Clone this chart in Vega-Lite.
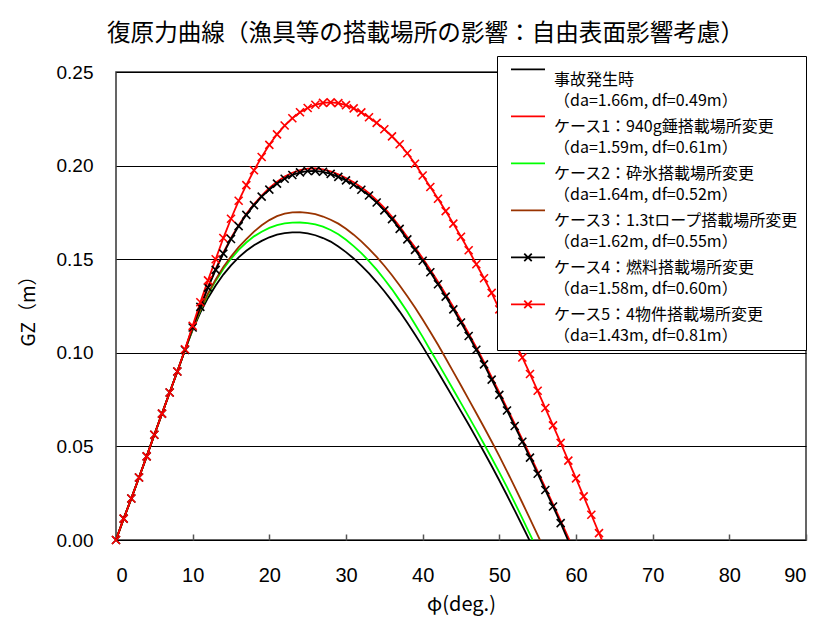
{
  "$schema": "https://vega.github.io/schema/vega-lite/v6.json",
  "width": 690,
  "height": 468,
  "autosize": {"type": "none"},
  "padding": {"left": 116, "top": 72, "right": 7, "bottom": 84},
  "background": "white",
  "title": {"text": "復原力曲線（漁具等の搭載場所の影響：自由表面影響考慮）", "anchor": "start", "frame": "group", "dx": -9, "offset": 10, "font": "Noto Sans CJK JP", "fontSize": 23.6, "fontWeight": "normal", "color": "black"},
  "data": {"values": [
    {"phi": 0, "a": 0, "c1": 0, "c2": 0, "c3": 0, "c4": 0, "c5": 0},
    {"phi": 1, "a": 0.0114, "c1": 0.0114, "c2": 0.0114, "c3": 0.0114, "c4": 0.0114, "c5": 0.0114},
    {"phi": 2, "a": 0.0222, "c1": 0.0222, "c2": 0.0222, "c3": 0.0222, "c4": 0.0222, "c5": 0.0222},
    {"phi": 3, "a": 0.0334, "c1": 0.0334, "c2": 0.0334, "c3": 0.0334, "c4": 0.0334, "c5": 0.0334},
    {"phi": 4, "a": 0.0447, "c1": 0.0447, "c2": 0.0447, "c3": 0.0447, "c4": 0.0447, "c5": 0.0447},
    {"phi": 5, "a": 0.0562, "c1": 0.0562, "c2": 0.0562, "c3": 0.0562, "c4": 0.0562, "c5": 0.0562},
    {"phi": 6, "a": 0.0675, "c1": 0.0675, "c2": 0.0675, "c3": 0.0675, "c4": 0.0675, "c5": 0.0675},
    {"phi": 7, "a": 0.0788, "c1": 0.0788, "c2": 0.0788, "c3": 0.0788, "c4": 0.0788, "c5": 0.0788},
    {"phi": 8, "a": 0.09, "c1": 0.09, "c2": 0.09, "c3": 0.09, "c4": 0.09, "c5": 0.09},
    {"phi": 9, "a": 0.1015, "c1": 0.1015, "c2": 0.1015, "c3": 0.1015, "c4": 0.1015, "c5": 0.1019},
    {"phi": 10, "a": 0.1122, "c1": 0.1139, "c2": 0.1128, "c3": 0.113, "c4": 0.1135, "c5": 0.1144},
    {"phi": 11, "a": 0.1215, "c1": 0.125, "c2": 0.1227, "c3": 0.1231, "c4": 0.1245, "c5": 0.127},
    {"phi": 12, "a": 0.1293, "c1": 0.1353, "c2": 0.1311, "c3": 0.1317, "c4": 0.1348, "c5": 0.1387},
    {"phi": 13, "a": 0.136, "c1": 0.1448, "c2": 0.1384, "c3": 0.1392, "c4": 0.1443, "c5": 0.15},
    {"phi": 14, "a": 0.1418, "c1": 0.1535, "c2": 0.1448, "c3": 0.1458, "c4": 0.153, "c5": 0.1613},
    {"phi": 15, "a": 0.1467, "c1": 0.1613, "c2": 0.1502, "c3": 0.1514, "c4": 0.1608, "c5": 0.1716},
    {"phi": 16, "a": 0.151, "c1": 0.1682, "c2": 0.155, "c3": 0.1564, "c4": 0.1677, "c5": 0.1812},
    {"phi": 17, "a": 0.1545, "c1": 0.1742, "c2": 0.1589, "c3": 0.1607, "c4": 0.1737, "c5": 0.1896},
    {"phi": 18, "a": 0.1575, "c1": 0.1794, "c2": 0.1622, "c3": 0.1647, "c4": 0.1789, "c5": 0.1975},
    {"phi": 19, "a": 0.1598, "c1": 0.184, "c2": 0.1647, "c3": 0.1681, "c4": 0.1834, "c5": 0.2046},
    {"phi": 20, "a": 0.1617, "c1": 0.1881, "c2": 0.1667, "c3": 0.1709, "c4": 0.1872, "c5": 0.2111},
    {"phi": 21, "a": 0.1631, "c1": 0.1914, "c2": 0.1682, "c3": 0.173, "c4": 0.1904, "c5": 0.2167},
    {"phi": 22, "a": 0.1639, "c1": 0.1941, "c2": 0.1691, "c3": 0.1743, "c4": 0.193, "c5": 0.2214},
    {"phi": 23, "a": 0.1643, "c1": 0.1962, "c2": 0.1695, "c3": 0.175, "c4": 0.195, "c5": 0.2253},
    {"phi": 24, "a": 0.1643, "c1": 0.1976, "c2": 0.1696, "c3": 0.1751, "c4": 0.1964, "c5": 0.2285},
    {"phi": 25, "a": 0.1638, "c1": 0.1984, "c2": 0.1693, "c3": 0.1747, "c4": 0.1971, "c5": 0.2308},
    {"phi": 26, "a": 0.1628, "c1": 0.1985, "c2": 0.1686, "c3": 0.1741, "c4": 0.1972, "c5": 0.2325},
    {"phi": 27, "a": 0.1613, "c1": 0.198, "c2": 0.1674, "c3": 0.1728, "c4": 0.1967, "c5": 0.2335},
    {"phi": 28, "a": 0.1594, "c1": 0.1969, "c2": 0.1656, "c3": 0.1711, "c4": 0.1956, "c5": 0.2338},
    {"phi": 29, "a": 0.1568, "c1": 0.1953, "c2": 0.1633, "c3": 0.169, "c4": 0.194, "c5": 0.2334},
    {"phi": 30, "a": 0.1538, "c1": 0.1934, "c2": 0.1604, "c3": 0.1663, "c4": 0.1921, "c5": 0.2323},
    {"phi": 31, "a": 0.1504, "c1": 0.1911, "c2": 0.157, "c3": 0.1631, "c4": 0.1898, "c5": 0.2306},
    {"phi": 32, "a": 0.1466, "c1": 0.1884, "c2": 0.1533, "c3": 0.1595, "c4": 0.1871, "c5": 0.2284},
    {"phi": 33, "a": 0.1424, "c1": 0.1853, "c2": 0.149, "c3": 0.1555, "c4": 0.184, "c5": 0.2258},
    {"phi": 34, "a": 0.1378, "c1": 0.1816, "c2": 0.1444, "c3": 0.1512, "c4": 0.1803, "c5": 0.2228},
    {"phi": 35, "a": 0.1329, "c1": 0.1774, "c2": 0.1393, "c3": 0.1465, "c4": 0.1761, "c5": 0.2194},
    {"phi": 36, "a": 0.1276, "c1": 0.1727, "c2": 0.1339, "c3": 0.1414, "c4": 0.1714, "c5": 0.2156},
    {"phi": 37, "a": 0.122, "c1": 0.1675, "c2": 0.128, "c3": 0.136, "c4": 0.1662, "c5": 0.2114},
    {"phi": 38, "a": 0.116, "c1": 0.1619, "c2": 0.1219, "c3": 0.1302, "c4": 0.1606, "c5": 0.2066},
    {"phi": 39, "a": 0.1098, "c1": 0.1563, "c2": 0.1153, "c3": 0.1242, "c4": 0.155, "c5": 0.201},
    {"phi": 40, "a": 0.1033, "c1": 0.1505, "c2": 0.1085, "c3": 0.1178, "c4": 0.1492, "c5": 0.1947},
    {"phi": 41, "a": 0.0965, "c1": 0.1443, "c2": 0.1014, "c3": 0.1111, "c4": 0.143, "c5": 0.1886},
    {"phi": 42, "a": 0.0897, "c1": 0.1379, "c2": 0.0945, "c3": 0.1043, "c4": 0.1366, "c5": 0.1823},
    {"phi": 43, "a": 0.0828, "c1": 0.1313, "c2": 0.0874, "c3": 0.0971, "c4": 0.13, "c5": 0.1757},
    {"phi": 44, "a": 0.0758, "c1": 0.1245, "c2": 0.0803, "c3": 0.0898, "c4": 0.1232, "c5": 0.169},
    {"phi": 45, "a": 0.0687, "c1": 0.1175, "c2": 0.0731, "c3": 0.0825, "c4": 0.1162, "c5": 0.162},
    {"phi": 46, "a": 0.0617, "c1": 0.1103, "c2": 0.0659, "c3": 0.0751, "c4": 0.109, "c5": 0.1548},
    {"phi": 47, "a": 0.0544, "c1": 0.1029, "c2": 0.0587, "c3": 0.0677, "c4": 0.1016, "c5": 0.1473},
    {"phi": 48, "a": 0.047, "c1": 0.0951, "c2": 0.0513, "c3": 0.0602, "c4": 0.0938, "c5": 0.1398},
    {"phi": 49, "a": 0.0395, "c1": 0.087, "c2": 0.0438, "c3": 0.0526, "c4": 0.0857, "c5": 0.132},
    {"phi": 50, "a": 0.0318, "c1": 0.0788, "c2": 0.0361, "c3": 0.0448, "c4": 0.0775, "c5": 0.1232},
    {"phi": 51, "a": 0.0239, "c1": 0.0705, "c2": 0.0282, "c3": 0.0367, "c4": 0.0692, "c5": 0.1143},
    {"phi": 52, "a": 0.0158, "c1": 0.0622, "c2": 0.02, "c3": 0.0284, "c4": 0.0609, "c5": 0.1058},
    {"phi": 53, "a": 0.0076, "c1": 0.0538, "c2": 0.0116, "c3": 0.0199, "c4": 0.0525, "c5": 0.0975},
    {"phi": 54, "a": -0.0007, "c1": 0.0453, "c2": 0.003, "c3": 0.0113, "c4": 0.044, "c5": 0.0887},
    {"phi": 55, "c1": 0.0367, "c2": -0.0055, "c3": 0.0026, "c4": 0.0354, "c5": 0.0797},
    {"phi": 56, "c1": 0.028, "c3": -0.0061, "c4": 0.0267, "c5": 0.0705},
    {"phi": 57, "c1": 0.0192, "c4": 0.0179, "c5": 0.0612},
    {"phi": 58, "c1": 0.0103, "c4": 0.009, "c5": 0.0519},
    {"phi": 59, "c1": 0.0013, "c4": -0.0005, "c5": 0.0424},
    {"phi": 60, "c1": -0.0076, "c4": -0.009, "c5": 0.0329},
    {"phi": 61, "c5": 0.0233},
    {"phi": 62, "c5": 0.0135},
    {"phi": 63, "c5": 0.0037},
    {"phi": 64, "c5": -0.0061}
  ]},
  "transform": [
    {"fold": ["a", "c1", "c2", "c3", "c4", "c5"], "as": ["case", "gz"]},
    {"filter": "isValid(datum.gz)"}
  ],
  "encoding": {
    "x": {"field": "phi", "type": "quantitative", "scale": {"domain": [0, 90], "nice": false},
      "axis": {"values": [0, 10, 20, 30, 40, 50, 60, 70, 80, 90], "title": "φ(deg.)", "grid": false, "domain": false,
        "tickSize": -6, "tickColor": "#555555", "tickWidth": 1.5, "labelPadding": 31, "labelFontSize": 20, "titleFontSize": 20, "titlePadding": 9}},
    "y": {"field": "gz", "type": "quantitative", "scale": {"domain": [0, 0.25], "nice": false},
      "axis": {"values": [0, 0.05, 0.1, 0.15, 0.2, 0.25], "format": ".2f", "title": "GZ（m）", "grid": true, "gridColor": "black", "gridWidth": 1, "gridOpacity": 1,
        "ticks": false, "domain": false, "labelPadding": 23, "labelFontSize": 19, "titleFontSize": 19, "titlePadding": 18}}
  },
  "layer": [
    {
      "mark": {"type": "line", "strokeWidth": 1.8, "clip": true},
      "encoding": {
        "stroke": {"field": "case", "type": "nominal", "legend": null,
          "scale": {"range": ["#000000", "#ff0000", "#00ff00", "#993300", "#000000", "#ff0000"]}}
      }
    },
    {
      "transform": [{"filter": "(datum.case == 'c4' || datum.case == 'c5') && datum.gz >= 0"}],
      "mark": {"type": "point", "shape": "M-1,-1L1,1M-1,1L1,-1", "size": 64, "filled": false, "strokeWidth": 1.6, "opacity": 1},
      "encoding": {
        "stroke": {"field": "case", "type": "nominal", "legend": null}
      }
    },
    {
      "transform": [{"filter": "datum.phi < 0"}],
      "mark": {"type": "point", "filled": false, "strokeWidth": 1.8, "opacity": 1},
      "encoding": {
        "color": {"field": "case", "type": "nominal",
          "scale": {"domain": ["a", "c1", "c2", "c3", "c4", "c5"], "range": ["#000000", "#ff0000", "#00ff00", "#993300", "#000000", "#ff0000"]},
          "legend": {
            "orient": "none", "legendX": 381, "legendY": -16, "title": null,
            "labelExpr": "datum.value == 'a' ? ['事故発生時', '（da=1.66m, df=0.49m）'] : datum.value == 'c1' ? ['ケース1：940g錘搭載場所変更', '（da=1.59m, df=0.61m）'] : datum.value == 'c2' ? ['ケース2：砕氷搭載場所変更', '（da=1.64m, df=0.52m）'] : datum.value == 'c3' ? ['ケース3：1.3tロープ搭載場所変更', '（da=1.62m, df=0.55m）'] : datum.value == 'c4' ? ['ケース4：燃料搭載場所変更', '（da=1.58m, df=0.60m）'] : ['ケース5：4物件搭載場所変更', '（da=1.43m, df=0.81m）']"
          }},
        "shape": {"field": "case", "type": "nominal",
          "scale": {"domain": ["a", "c1", "c2", "c3", "c4", "c5"], "range": ["M-1,-0.62H1", "M-1,-0.62H1", "M-1,-0.62H1", "M-1,-0.62H1", "M-1,-0.62H1M-0.22,-0.84L0.22,-0.4M-0.22,-0.4L0.22,-0.84", "M-1,-0.62H1M-0.22,-0.84L0.22,-0.4M-0.22,-0.4L0.22,-0.84"]},
          "legend": {
            "orient": "none", "legendX": 381, "legendY": -16, "title": null,
            "labelExpr": "datum.value == 'a' ? ['事故発生時', '（da=1.66m, df=0.49m）'] : datum.value == 'c1' ? ['ケース1：940g錘搭載場所変更', '（da=1.59m, df=0.61m）'] : datum.value == 'c2' ? ['ケース2：砕氷搭載場所変更', '（da=1.64m, df=0.52m）'] : datum.value == 'c3' ? ['ケース3：1.3tロープ搭載場所変更', '（da=1.62m, df=0.55m）'] : datum.value == 'c4' ? ['ケース4：燃料搭載場所変更', '（da=1.58m, df=0.60m）'] : ['ケース5：4物件搭載場所変更', '（da=1.43m, df=0.81m）']"
          }}
      }
    }
  ],
  "config": {
    "view": {"stroke": "#333333", "strokeWidth": 1.5},
    "style": {"guide-label": {"lineHeight": 21}},
    "axis": {"labelFont": "Liberation Sans", "labelColor": "black", "titleFont": "Noto Sans CJK JP", "titleColor": "black", "titleFontWeight": "normal"},
    "legend": {
      "orient": "none", "legendX": 381, "legendY": -16,
      "fillColor": "white", "strokeColor": "black", "padding": 6,
      "symbolOffset": 7, "symbolSize": 1156, "symbolStrokeWidth": 1.8,
      "labelFont": "Noto Sans CJK JP", "labelFontSize": 16, "labelColor": "black", "labelLimit": 0, "labelOffset": 8, "rowPadding": -6
    }
  }
}
